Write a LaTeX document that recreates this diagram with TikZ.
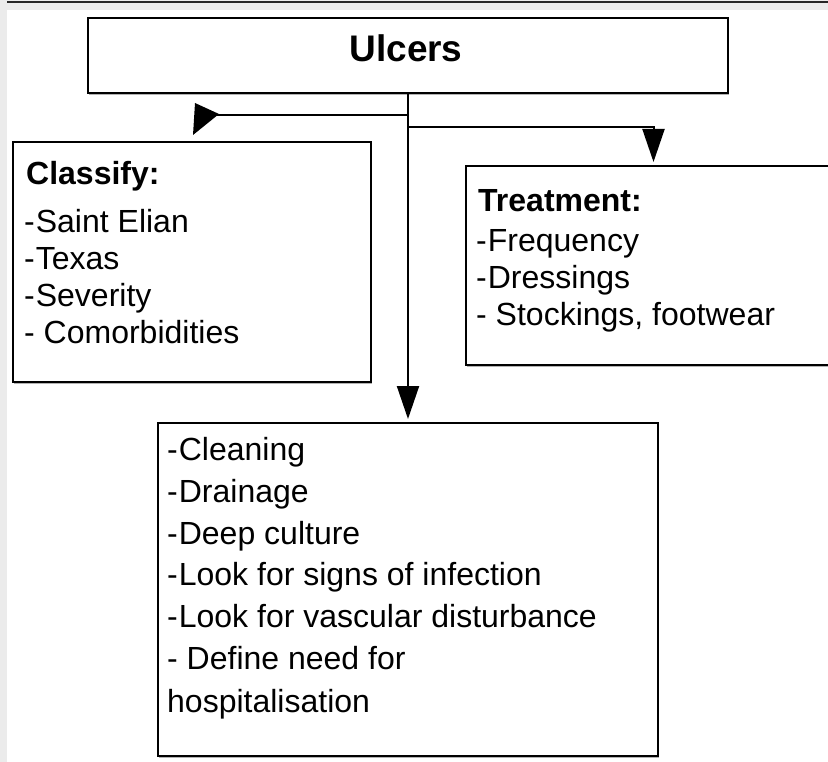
\documentclass[tikz,border=0pt]{standalone}
\usepackage{fontspec}
\setmainfont{Liberation Sans}
\usetikzlibrary{shadows,arrows.meta}
\definecolor{pagegray}{HTML}{EBEBEB}
% stacked lines with a fixed line pitch; baseline = first line
\newcommand\linestack[2]{\vtop{\baselineskip=#1\relax\lineskip=0pt\lineskiplimit=-100pt #2}}
% list dash with its small gap
\newcommand\ldash{-\kern1pt}
\begin{document}
\begin{tikzpicture}[x=1pt,y=-1pt,
  box/.style={draw=black, line width=2pt, fill=white, rectangle, inner sep=0pt,
    anchor=north west,
    drop shadow={shadow xshift=1pt, shadow yshift=-2pt, fill=black!30, opacity=1}},
  wire/.style={line width=2pt},
  headtip/.style={-{Triangle[length=33pt,width=22pt]}, shorten >=3pt},
  itemtext/.style={anchor=base west, inner sep=0pt, font=\fontsize{32}{37}\selectfont},
  headtext/.style={anchor=base west, inner sep=0pt, font=\bfseries\fontsize{32}{37}\selectfont}]

  \useasboundingbox (0,0) rectangle (828,762);
  \clip (0,0) rectangle (828,762);

  % page frame
  \fill[pagegray] (0,0) rectangle (828,762);
  \fill[white] (7,10) rectangle (828,762);
  \draw[line width=2pt, black!85] (7,2) -- (828,2);

  % boxes
  \node[box, minimum width=640pt, minimum height=75pt] (ulc) at (87,17) {};
  \node[box, minimum width=358pt, minimum height=240pt] (cls) at (12,141) {};
  \node[box, minimum width=375pt, minimum height=199pt] (tre) at (465,165) {};
  \node[box, minimum width=500pt, minimum height=333pt] (bot) at (157,422) {};

  % texts
  \node[anchor=base, inner sep=0pt, font=\bfseries\fontsize{37}{40}\selectfont] (ulct) at (406,62) {Ulcers};

  \node[headtext] (clsh) at (26,185) {Classify:};
  \node[itemtext] (clsl) at (24,233) {\linestack{37pt}{%
    \hbox{\ldash Saint Elian}\hbox{\ldash Texas}\hbox{\ldash Severity}\hbox{- Comorbidities}}};

  \node[headtext] (treh) at (478,212) {Treatment:};
  \node[itemtext] (trel) at (476,252) {\linestack{37pt}{%
    \hbox{\ldash Frequency}\hbox{\ldash Dressings}\hbox{- Stockings, footwear}}};

  \node[itemtext] (botl) at (167,460) {\linestack{42pt}{%
    \hbox{\ldash Cleaning}\hbox{\ldash Drainage}\hbox{\ldash Deep culture}%
    \hbox{\ldash Look for signs of infection}\hbox{\ldash Look for vascular disturbance}%
    \hbox{- Define need for}\hbox{hospitalisation}}};

  % connectors
  \coordinate (lj) at (407,115);
  \coordinate (rj) at (407,127);
  \coordinate (lk) at (217,115);

  \draw[wire, headtip] (ulc.south) -- (bot.north);
  \draw[wire, headtip] (rj) -| (tre.north);
  \draw[wire] (lj) -- (lk);
  \fill (195,103) -- (219,114) -- ([xshift=1pt,yshift=6pt]cls.north) -- cycle;
\end{tikzpicture}
\end{document}
